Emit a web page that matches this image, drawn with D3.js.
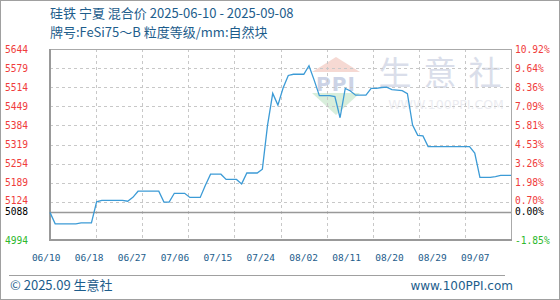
<!DOCTYPE html>
<html>
<head>
<meta charset="utf-8">
<script src="https://cdn.jsdelivr.net/npm/d3@7"></script>
<style>
  html, body { margin: 0; padding: 0; background: #fff; }
  svg { display: block; }
</style>
</head>
<body>
<svg width="560" height="300"></svg>
<script>
// 标题
const titleLines = ["硅铁 宁夏 混合价 2025-06-10 - 2025-09-08", "牌号:FeSi75～B 粒度等级/mm:自然块"]

// 每日价格 06/10 - 09/07 (元/吨)
const prices = [
    5088, 5049, 5049, 5049, 5049, 5049, 5052, 5052, 5052, 5124,
    5129, 5129, 5129, 5129, 5129, 5126, 5139, 5160, 5160, 5160,
    5160, 5160, 5123, 5123, 5153, 5153, 5153, 5139, 5139, 5139,
    5180, 5218, 5218, 5218, 5200, 5200, 5200, 5185, 5222, 5222,
    5222, 5235, 5385, 5493, 5453, 5511, 5554, 5558, 5558, 5558,
    5587, 5538, 5485, 5485, 5485, 5482, 5410, 5510, 5501, 5487,
    5487, 5487, 5510, 5510, 5513, 5514, 5506, 5504, 5502, 5492,
    5385, 5350, 5348, 5312, 5312, 5312, 5312, 5312, 5312, 5312,
    5312, 5312, 5290, 5207, 5207, 5207, 5210, 5214, 5214, 5214
]
const startDate = new Date(2025, 5, 10)

// 坐标刻度
const leftTicks = [5644, 5579, 5514, 5449, 5384, 5319, 5254, 5189, 5124, 5088, 4994]
const rightTicks = ["10.92%", "9.64%", "8.36%", "7.09%", "5.81%", "4.53%", "3.26%", "1.98%", "0.70%", "0.00%", "-1.85%"]
const xLabels = ["06/10", "06/18", "06/27", "07/06", "07/15", "07/24", "08/02", "08/11", "08/20", "08/29", "09/07"]
const baseValue = 5088

const svg = d3.select("svg")

const area = {left: 50, right: 511, top: 49, bottom: 240}

const dates = prices.map((p, i) => d3.timeDay.offset(startDate, i))
const data = prices.map((p, i) => ({date: dates[i], value: p}))

const scaleX = d3.scaleTime()
    .domain(d3.extent(dates))
    .range([area.left, area.right])

const scaleY = d3.scaleLinear()
    .domain([d3.min(leftTicks), d3.max(leftTicks)])
    .range([area.bottom, area.top])

// x 轴文字位置
const scaleLabel = d3.scalePoint()
    .domain(xLabels)
    .range([46.2, 475.3])

// 竖向网格 (10 等分)
const scaleGrid = d3.scaleLinear().domain([0, 10]).range([area.left, area.right])

const blue = "#1d5d8c"

// 外框
svg.append("rect")
    .attr("x", 0.5).attr("y", 0.5)
    .attr("width", 559).attr("height", 299)
    .style("fill", "#fff")
    .style("stroke", "#a0a0a0")

// 标题
svg.selectAll(".title")
    .data(titleLines)
    .enter()
    .append("text")
    .attr("class", "title")
    .attr("x", 50)
    .attr("y", (d, i) => 18 + i * 19)
    .style("font-family", "'Noto Sans CJK SC', 'DejaVu Sans', sans-serif")
    .style("font-size", "13px")
    .style("fill", blue)
    .text(d => d)

// 水印
let wm = svg.append("g")
wm.append("path")
    .attr("d", "M312,72 L336,57 L360,72 Z")
    .style("fill", "#f6d9d3")
wm.append("path")
    .attr("d", "M312,93 L360,93 L336,115 Z")
    .style("fill", "#d8eedb")
wm.append("text")
    .attr("x", 336).attr("y", 91)
    .attr("text-anchor", "middle")
    .style("font-family", "'DejaVu Sans', sans-serif")
    .style("font-weight", "bold")
    .style("font-size", "20px")
    .style("letter-spacing", "1px")
    .style("fill", "#ccd3e6")
    .text("PPI")
wm.append("text")
    .attr("x", 446).attr("y", 85)
    .attr("text-anchor", "middle")
    .style("font-family", "'Noto Sans CJK SC', sans-serif")
    .style("font-size", "33px")
    .style("letter-spacing", "12px")
    .style("fill", "#dadeea")
    .text("生意社")
wm.append("text")
    .attr("x", 446).attr("y", 109)
    .attr("text-anchor", "middle")
    .style("font-family", "'DejaVu Sans', sans-serif")
    .style("font-size", "12.5px")
    .style("fill", "#ebecf1")
    .text("WWW.100PPI.COM")

// 横向网格
svg.selectAll(".hgrid")
    .data(leftTicks.filter(d => d != baseValue && d != d3.min(leftTicks) && d != d3.max(leftTicks)))
    .enter()
    .append("line")
    .attr("class", "hgrid")
    .attr("x1", area.left).attr("x2", area.right)
    .attr("y1", d => Math.round(scaleY(d)) + 0.5)
    .attr("y2", d => Math.round(scaleY(d)) + 0.5)
    .style("stroke", "#c8c8c8")
    .style("stroke-dasharray", "3,3")

// 竖向网格
svg.selectAll(".vgrid")
    .data(d3.range(1, 10))
    .enter()
    .append("line")
    .attr("class", "vgrid")
    .attr("x1", d => Math.round(scaleGrid(d)) + 0.5)
    .attr("x2", d => Math.round(scaleGrid(d)) + 0.5)
    .attr("y1", area.top).attr("y2", area.bottom)
    .style("stroke", "#c8c8c8")
    .style("stroke-dasharray", "3,3")

// 边框
svg.append("rect")
    .attr("x", area.left + 0.5).attr("y", area.top + 0.5)
    .attr("width", area.right - area.left).attr("height", area.bottom - area.top)
    .style("fill", "none")
    .style("stroke", "#aaaaaa")

svg.append("line")
    .attr("x1", area.left).attr("x2", area.left)
    .attr("y1", area.top).attr("y2", area.bottom + 1)
    .style("stroke", "#999")
    .style("stroke-width", 2)
svg.append("line")
    .attr("x1", area.left).attr("x2", area.right + 1)
    .attr("y1", area.bottom).attr("y2", area.bottom)
    .style("stroke", "#999")
    .style("stroke-width", 2)

// 基准线
svg.append("line")
    .attr("x1", area.left).attr("x2", area.right)
    .attr("y1", scaleY(baseValue)).attr("y2", scaleY(baseValue))
    .style("stroke", "#999")
    .style("stroke-width", 1.5)

// 价格线
const lineGen = d3.line()
    .x(d => scaleX(d.date))
    .y(d => scaleY(d.value))

svg.append("path")
    .datum(data)
    .attr("d", lineGen)
    .style("fill", "none")
    .style("stroke", "#3c9bd6")
    .style("stroke-width", 1.3)

const tickColor = v => v > baseValue ? "#f03c3c" : (v == baseValue ? "#000" : "#2db82d")
// 5124 与 5088 靠得很近, 稍微错开
const tickShift = v => v == baseValue ? 3 : (v == 5124 ? 2.5 : 3.5)

// 左侧刻度
svg.selectAll(".ly")
    .data(leftTicks)
    .enter()
    .append("text")
    .attr("class", "ly")
    .attr("x", 5)
    .attr("y", d => scaleY(d) + tickShift(d))
    .style("font-family", "'DejaVu Sans Mono', monospace")
    .style("font-size", "9.6px")
    .style("fill", tickColor)
    .text(d => d)

// 右侧百分比
svg.selectAll(".ry")
    .data(leftTicks)
    .enter()
    .append("text")
    .attr("class", "ry")
    .attr("x", 515)
    .attr("y", d => scaleY(d) + tickShift(d))
    .style("font-family", "'DejaVu Sans Mono', monospace")
    .style("font-size", "9.6px")
    .style("fill", tickColor)
    .text((d, i) => rightTicks[i])

// x 轴文字
svg.selectAll(".xl")
    .data(xLabels)
    .enter()
    .append("text")
    .attr("class", "xl")
    .attr("x", d => scaleLabel(d))
    .attr("y", 261)
    .attr("text-anchor", "middle")
    .style("font-family", "'DejaVu Sans Mono', monospace")
    .style("font-size", "9.5px")
    .style("fill", blue)
    .text(d => d)

// 底部
svg.append("line")
    .attr("x1", 9).attr("x2", 505)
    .attr("y1", 275.5).attr("y2", 275.5)
    .style("stroke", "#a0a0a0")

svg.append("text")
    .attr("x", 10).attr("y", 290)
    .style("font-family", "'Noto Sans CJK SC', 'DejaVu Sans', sans-serif")
    .style("font-size", "13px")
    .style("fill", blue)
    .text("© 2025.09 生意社")

svg.append("text")
    .attr("x", 513).attr("y", 290)
    .attr("text-anchor", "end")
    .style("font-family", "'DejaVu Sans', sans-serif")
    .style("font-size", "12px")
    .style("fill", blue)
    .text("www.100PPI.com")
</script>
</body>
</html>
